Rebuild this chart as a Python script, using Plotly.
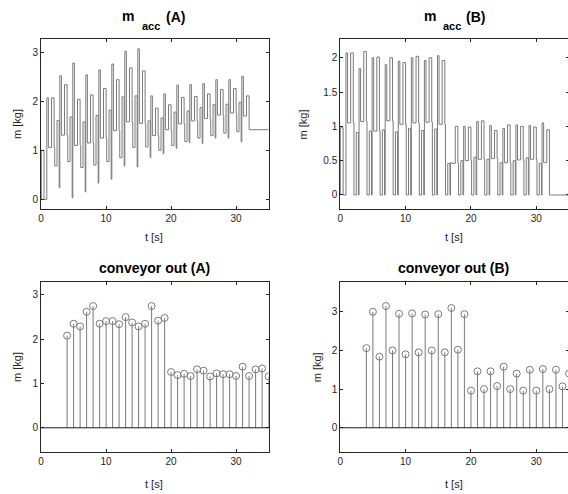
import plotly.graph_objects as go

# ---------------- data ----------------
SPIKE_T = [1, 3, 5, 7, 9, 11, 13, 15, 17, 19, 21, 23, 25, 27, 29, 31]

# accumulator A (per 2-s cycle values)
A_PEAK = [2.07, 2.52, 2.78, 2.54, 2.64, 2.76, 3.02, 3.07, 2.11, 2.15, 2.33, 2.34, 2.36, 2.44, 2.44, 2.51]
A_TROUGH = [0.00, 0.24, 0.03, 0.15, 0.33, 0.41, 0.68, 0.66, 0.85, 0.93, 1.04, 1.16, 1.14, 1.25, 1.25, 1.17]
A_MID = [1.06, 1.31, 1.10, 1.15, 1.25, 1.40, 1.58, 1.55, 1.30, 1.42, 1.54, 1.60, 1.65, 1.72, 1.76, 1.70]
A_RECT = [2.07, 2.34, 2.04, 2.13, 2.26, 2.44, 2.68, 2.62, 1.86, 1.93, 2.08, 2.10, 2.15, 2.24, 2.26, 2.11]
A_LOW = [0.68, 0.77, 0.65, 0.70, 0.77, 0.85, 1.06, 1.07, 1.00, 1.10, 1.18, 1.25, 1.30, 1.35, 1.38]
A_PRE = [1.61, 1.68, 1.58, 1.71, 1.82, 2.09, 2.11, 1.60, 1.66, 1.78, 1.80, 1.87, 1.93, 1.94, 1.98]
A_START = 1.00
A_END = 1.42

# accumulator B
B_PEAK = [2.07, 1.84, 2.00, 1.90, 1.95, 2.00, 1.96, 2.03, 0.47, 1.00, 1.07, 1.01, 0.97, 1.02, 1.01, 1.05]
B_TROUGH = [0.00, 0.00, 0.00, 0.00, 0.00, 0.00, 0.00, 0.00, 0.00, 0.00, 0.00, 0.00, 0.00, 0.00, 0.00, 0.00]
B_MID = [1.05, 1.07, 0.93, 1.08, 1.03, 1.05, 1.06, 1.03, 0.46, 0.50, 0.52, 0.53, 0.47, 0.51, 0.52, 0.47]
B_RECT = [2.07, 2.09, 2.01, 2.00, 1.93, 2.02, 2.00, 1.96, 1.00, 0.99, 1.08, 0.94, 1.02, 1.00, 0.99, 0.95]
B_LOW = [0.00, 0.00, 0.00, 0.00, 0.00, 0.00, 0.00, 0.00, 0.00, 0.00, 0.00, 0.00, 0.00, 0.00, 0.00]
B_PRE = [0.91, 0.93, 0.95, 0.92, 0.97, 0.94, 0.96, 0.46, 0.50, 0.55, 0.52, 0.47, 0.50, 0.54, 0.46]
B_START = 0.98
B_END = 0.00

# conveyor out
STEM_T = [4, 5, 6, 7, 8, 9, 10, 11, 12, 13, 14, 15, 16, 17, 18, 19,
          20, 21, 22, 23, 24, 25, 26, 27, 28, 29, 30, 31, 32, 33, 34, 35]
CONV_A = [2.08, 2.35, 2.29, 2.62, 2.75, 2.35, 2.41, 2.41, 2.34, 2.50, 2.38, 2.29, 2.35, 2.75, 2.42, 2.48,
          1.26, 1.19, 1.22, 1.17, 1.32, 1.29, 1.16, 1.23, 1.21, 1.21, 1.17, 1.38, 1.17, 1.32, 1.34, 1.16]
CONV_B = [2.06, 3.00, 1.84, 3.15, 2.00, 2.95, 1.90, 2.96, 1.95, 2.93, 2.00, 2.94, 1.95, 3.10, 2.02, 2.94,
          0.96, 1.46, 1.00, 1.46, 1.08, 1.58, 1.00, 1.40, 0.96, 1.50, 0.96, 1.52, 1.00, 1.50, 1.07, 1.40]

T_END = 35

# ---------------- helpers ----------------
def stairs(peak, trough, mid, rect, low, pre, start, end):
    xs = [0.0, 0.05, 0.45]
    ys = [0.0, start, trough[0]]
    n = len(SPIKE_T)
    for k, s in enumerate(SPIKE_T):
        if k > 0:
            xs.append(s - 0.22)
            ys.append(trough[k])
        if k < n - 1:
            xs += [s - 0.12, s + 0.12, s + 0.6, s + 1.0, s + 1.1, s + 1.45]
            ys += [peak[k], mid[k], rect[k], mid[k], low[k], pre[k]]
        else:
            xs += [s - 0.12, s + 0.12, s + 0.6, s + 1.0]
            ys += [peak[k], mid[k], rect[k], end]
    xs.append(T_END)
    ys.append(end)
    return xs, ys


def stems(t, v):
    xs, ys = [], []
    for a, b in zip(t, v):
        xs += [a, a, None]
        ys += [0, b, None]
    return xs, ys


GRAY = "#7a7a7a"
AX = "#262626"
FONT = "Liberation Sans, Arial, sans-serif"

fig = go.Figure()

ax_a, ay_a = stairs(A_PEAK, A_TROUGH, A_MID, A_RECT, A_LOW, A_PRE, A_START, A_END)
bx_b, by_b = stairs(B_PEAK, B_TROUGH, B_MID, B_RECT, B_LOW, B_PRE, B_START, B_END)

fig.add_trace(go.Scatter(x=ax_a, y=ay_a, mode="lines", line=dict(color=GRAY, width=1, shape="hv"),
                         xaxis="x", yaxis="y", showlegend=False, hoverinfo="skip"))
fig.add_trace(go.Scatter(x=bx_b, y=by_b, mode="lines", line=dict(color=GRAY, width=1, shape="hv"),
                         xaxis="x2", yaxis="y2", showlegend=False, hoverinfo="skip"))

for conv, xa, ya in [(CONV_A, "x3", "y3"), (CONV_B, "x4", "y4")]:
    sx, sy = stems(STEM_T, conv)
    fig.add_trace(go.Scatter(x=sx, y=sy, mode="lines", line=dict(color=GRAY, width=1),
                             xaxis=xa, yaxis=ya, showlegend=False, hoverinfo="skip"))
    fig.add_trace(go.Scatter(x=STEM_T, y=conv, mode="markers",
                             marker=dict(symbol="circle-open", size=7, color=GRAY, line=dict(width=1, color=GRAY)),
                             xaxis=xa, yaxis=ya, showlegend=False, hoverinfo="skip"))

# page is 2 px wider than the window so the right-hand frames fall just outside it
W, H = 570, 494
xl = [38.3 / W, 267.0 / W]
xr = [339.0 / W, 569.0 / W]
yt = [1 - 208.7 / H, 1 - 38.5 / H]
yb = [1 - 451.7 / H, 1 - 281.7 / H]

def xaxis(dom, anchor, rng):
    return dict(domain=dom, anchor=anchor, range=rng, tickvals=[0, 10, 20, 30],
                ticks="inside", ticklen=3, tickcolor=AX, showline=True, linecolor=AX, linewidth=1,
                mirror="ticks", showgrid=False, zeroline=False,
                tickfont=dict(family=FONT, size=10, color=AX))

def yaxis(dom, anchor, rng, tv, tt):
    return dict(domain=dom, anchor=anchor, range=rng, tickvals=tv, ticktext=tt,
                ticks="inside", ticklen=3, tickcolor=AX, showline=True, linecolor=AX, linewidth=1,
                mirror="ticks", showgrid=False, zeroline=False,
                tickfont=dict(family=FONT, size=10, color=AX))

fig.update_layout(
    width=W, height=H, margin=dict(l=0, r=0, t=0, b=0),
    paper_bgcolor="white", plot_bgcolor="white",
    xaxis=xaxis(xl, "y", [0, 35]),
    yaxis=yaxis(yt, "x", [-0.19, 3.28], [0, 1, 2, 3], ["0", "1", "2", "3"]),
    xaxis2=xaxis(xr, "y2", [0, 35]),
    yaxis2=yaxis(yt, "x2", [-0.2, 2.28], [0, 0.5, 1, 1.5, 2], ["0", "0.5", "1", "1.5", "2"]),
    xaxis3=xaxis(xl, "y3", [0, 35]),
    yaxis3=yaxis(yb, "x3", [-0.54, 3.3], [0, 1, 2, 3], ["0", "1", "2", "3"]),
    xaxis4=xaxis(xr, "y4", [0, 35]),
    yaxis4=yaxis(yb, "x4", [-0.62, 3.78], [0, 1, 2, 3], ["0", "1", "2", "3"]),
)

# stem baselines
for xa, ya in [("x3", "y3"), ("x4", "y4")]:
    fig.add_shape(type="line", xref=f"{xa} domain", yref=ya, x0=0, x1=1, y0=0, y1=0,
                  line=dict(color="#1a1a1a", width=1))

def px_ann(text, x, y, size, angle=0, color=AX):
    fig.add_annotation(text=text, x=x / W, y=1 - y / H, xref="paper", yref="paper",
                       showarrow=False, xanchor="center", yanchor="middle", textangle=angle,
                       font=dict(family=FONT, size=size, color=color))

# titles (m_acc with subscript placed like the TeX rendering)
for mx, sx, lx, lab in [(126, 149, 173.5, "(A)"), (429, 451, 475, "(B)")]:
    px_ann("<b>m</b>", mx, 16, 14, color="black")
    px_ann("<b>acc</b>", sx, 26, 11, color="black")
    px_ann(f"<b>{lab}</b>", lx, 17, 14, color="black")
px_ann("<b>conveyor out (A)</b>", 152, 268, 14, color="black")
px_ann("<b>conveyor out (B)</b>", 453, 268, 14, color="black")

# axis labels
for cx in (152, 453):
    px_ann("t [s]", cx, 237, 11)
    px_ann("t [s]", cx, 484, 11)
px_ann("m [kg]", 14, 124, 11, angle=-90)
px_ann("m [kg]", 302, 124, 11, angle=-90)
px_ann("m [kg]", 14, 367, 11, angle=-90)
px_ann("m [kg]", 316, 367, 11, angle=-90)

fig.write_html("out.html", config={"displayModeBar": False},
               post_script="document.body.style.margin='0';document.body.style.overflow='hidden';")
